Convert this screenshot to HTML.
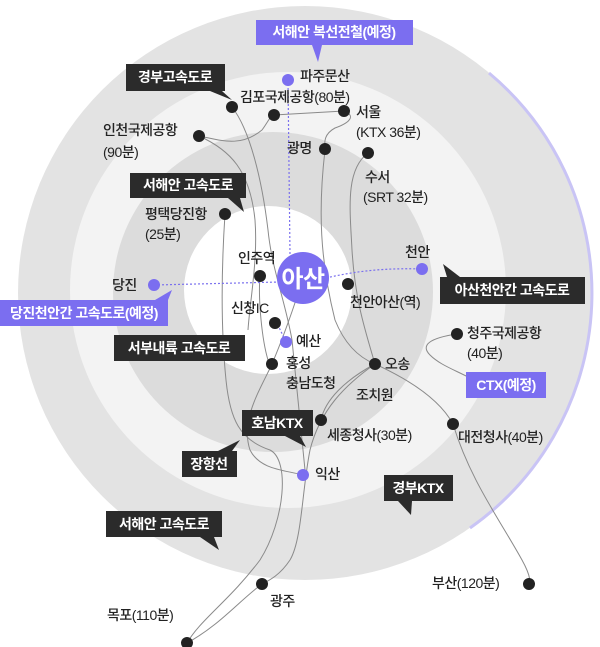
<!DOCTYPE html>
<html><head><meta charset="utf-8"><style>
html,body{margin:0;padding:0;background:#fff}
svg{display:block}
text{font-family:"Liberation Sans","Noto Sans CJK KR",sans-serif;font-size:14px;fill:#222;letter-spacing:-0.5px;font-weight:500}
.w{fill:#fff;font-weight:bold}
</style></head><body>
<svg width="600" height="647" viewBox="0 0 600 647" xmlns="http://www.w3.org/2000/svg">
<circle cx="305" cy="293" r="287" fill="#e3e3e3"/>
<path d="M489 73 A287 287 0 0 1 470 528" fill="none" stroke="#c9c4f5" stroke-width="3"/>
<circle cx="288" cy="290" r="218" fill="#f3f3f3"/>
<circle cx="273" cy="292" r="160" fill="#dcdcdc"/>
<circle cx="268" cy="290" r="84" fill="#fff"/>

<g fill="none" stroke="#8a8a8a" stroke-width="1">
<path d="M232 107 C250 130 262 180 268 230 C272 270 285 300 292 340 C296 380 300 420 305 470"/>
<path d="M199 136 C220 140 240 148 262 130 C268 122 270 116 274 115 L344 111 C355 115 352 122 335 128 C322 135 325 145 325 150 C318 210 320 260 335 320 C345 345 360 358 375 364 C410 380 440 400 453 424 C470 480 500 520 522 560 C532 578 530 584 529 584"/>
<path d="M199 136 C230 150 250 170 255 220 C258 260 250 300 248 330"/>
<path d="M368 153 C345 170 350 210 352 250 C355 300 365 330 375 364"/>
<path d="M225 214 C222 260 220 320 226 380 C230 420 240 440 270 450 C290 460 285 520 260 560 C230 600 200 620 187 643"/>
<path d="M375 364 C345 385 320 410 310 450 C302 490 302 540 290 560 C280 575 270 580 262 584 C240 600 220 625 187 643"/>
<path d="M303 278 C290 320 280 345 272 364 C260 390 240 420 250 450 C260 470 285 470 303 475"/>
<path d="M457 334 C430 338 420 345 430 355 C440 365 455 370 470 378"/>
<path d="M260 276 C258 300 262 340 268 360"/>
<path d="M321 420 C325 400 345 380 375 364"/>
</g>
<g fill="none" stroke="#7a70ee" stroke-width="1.2" stroke-dasharray="2,2">
<path d="M154 285 L280 282"/>
<path d="M326 278 C360 270 390 268 422 269"/>
<path d="M288 80 L290 255"/>
<path d="M276 321 L286 342"/>
</g>

<g fill="#222">
<circle cx="232" cy="107" r="6"/><circle cx="274" cy="115" r="6"/><circle cx="344" cy="111" r="6"/>
<circle cx="199" cy="136" r="6"/><circle cx="325" cy="149" r="6"/><circle cx="368" cy="153" r="6"/>
<circle cx="225" cy="214" r="6"/><circle cx="260" cy="276" r="6"/><circle cx="348" cy="284" r="6"/>
<circle cx="275" cy="323" r="6"/><circle cx="272" cy="364" r="6"/><circle cx="375" cy="364" r="6"/>
<circle cx="457" cy="334" r="6"/><circle cx="321" cy="420" r="6"/><circle cx="453" cy="424" r="6"/>
<circle cx="262" cy="584" r="6"/><circle cx="187" cy="643" r="6"/><circle cx="529" cy="584" r="6"/>
</g>
<g fill="#7b6ef0">
<circle cx="288" cy="80" r="6"/><circle cx="422" cy="269" r="6"/><circle cx="154" cy="285" r="6"/>
<circle cx="286" cy="342" r="6"/><circle cx="303" cy="475" r="6"/>
<circle cx="303" cy="278" r="26"/>
</g>
<text x="303" y="287" text-anchor="middle" class="w" style="font-size:24px">아산</text>

<g>
<rect x="256" y="20" width="157" height="25" fill="#7b6ef0"/><path d="M312 45 L322 45 L318 62 Z" fill="#7b6ef0"/>
<text x="334" y="37" text-anchor="middle" class="w">서해안 복선전철(예정)</text>
<rect x="126" y="64" width="99" height="27" fill="#2b2b2b"/><path d="M210 91 L222 91 L232 100 Z" fill="#2b2b2b"/>
<text x="175" y="82" text-anchor="middle" class="w">경부고속도로</text>
<rect x="130" y="173" width="116" height="25" fill="#2b2b2b"/><path d="M228 198 L240 198 L244 212 Z" fill="#2b2b2b"/>
<text x="188" y="190" text-anchor="middle" class="w">서해안 고속도로</text>
<rect x="440" y="277" width="145" height="27" fill="#2b2b2b"/><path d="M447 277 L460 277 L443 264 Z" fill="#2b2b2b"/>
<text x="512" y="295" text-anchor="middle" class="w">아산천안간 고속도로</text>
<rect x="0" y="300" width="168" height="26" fill="#7b6ef0"/><path d="M155 300 L168 300 L172 290 Z" fill="#7b6ef0"/>
<text x="84" y="318" text-anchor="middle" class="w">당진천안간 고속도로(예정)</text>
<rect x="114" y="335" width="131" height="26" fill="#2b2b2b"/>
<text x="179" y="353" text-anchor="middle" class="w">서부내륙 고속도로</text>
<rect x="466" y="372" width="80" height="26" fill="#7b6ef0"/>
<text x="506" y="390" text-anchor="middle" class="w">CTX(예정)</text>
<rect x="242" y="410" width="71" height="26" fill="#2b2b2b"/><path d="M285 436 L300 436 L306 447 Z" fill="#2b2b2b"/>
<text x="277" y="428" text-anchor="middle" class="w">호남KTX</text>
<rect x="182" y="451" width="55" height="26" fill="#2b2b2b"/><path d="M218 451 L232 451 L240 440 Z" fill="#2b2b2b"/>
<text x="209" y="469" text-anchor="middle" class="w">장항선</text>
<rect x="384" y="475" width="69" height="26" fill="#2b2b2b"/><path d="M398 501 L412 501 L411 515 Z" fill="#2b2b2b"/>
<text x="418" y="493" text-anchor="middle" class="w">경부KTX</text>
<rect x="106" y="511" width="116" height="26" fill="#2b2b2b"/><path d="M200 537 L214 537 L219 550 Z" fill="#2b2b2b"/>
<text x="164" y="529" text-anchor="middle" class="w">서해안 고속도로</text>
</g>

<text x="300" y="81">파주문산</text>
<text x="240" y="102">김포국제공항(80분)</text>
<text x="356" y="117">서울</text>
<text x="356" y="137">(KTX 36분)</text>
<text x="103" y="135">인천국제공항</text>
<text x="103" y="157">(90분)</text>
<text x="287" y="153">광명</text>
<text x="365" y="182">수서</text>
<text x="363" y="202">(SRT 32분)</text>
<text x="145" y="219">평택당진항</text>
<text x="145" y="239">(25분)</text>
<text x="238" y="263">인주역</text>
<text x="405" y="257">천안</text>
<text x="350" y="307">천안아산(역)</text>
<text x="112" y="290">당진</text>
<text x="231" y="313">신창IC</text>
<text x="296" y="346">예산</text>
<text x="286" y="368">홍성</text>
<text x="286" y="388">충남도청</text>
<text x="385" y="369">오송</text>
<text x="467" y="338">청주국제공항</text>
<text x="467" y="358">(40분)</text>
<text x="356" y="400">조치원</text>
<text x="327" y="440">세종청사(30분)</text>
<text x="458" y="442">대전청사(40분)</text>
<text x="315" y="479">익산</text>
<text x="270" y="606">광주</text>
<text x="107" y="620">목포(110분)</text>
<text x="432" y="588">부산(120분)</text>
</svg>
</body></html>
